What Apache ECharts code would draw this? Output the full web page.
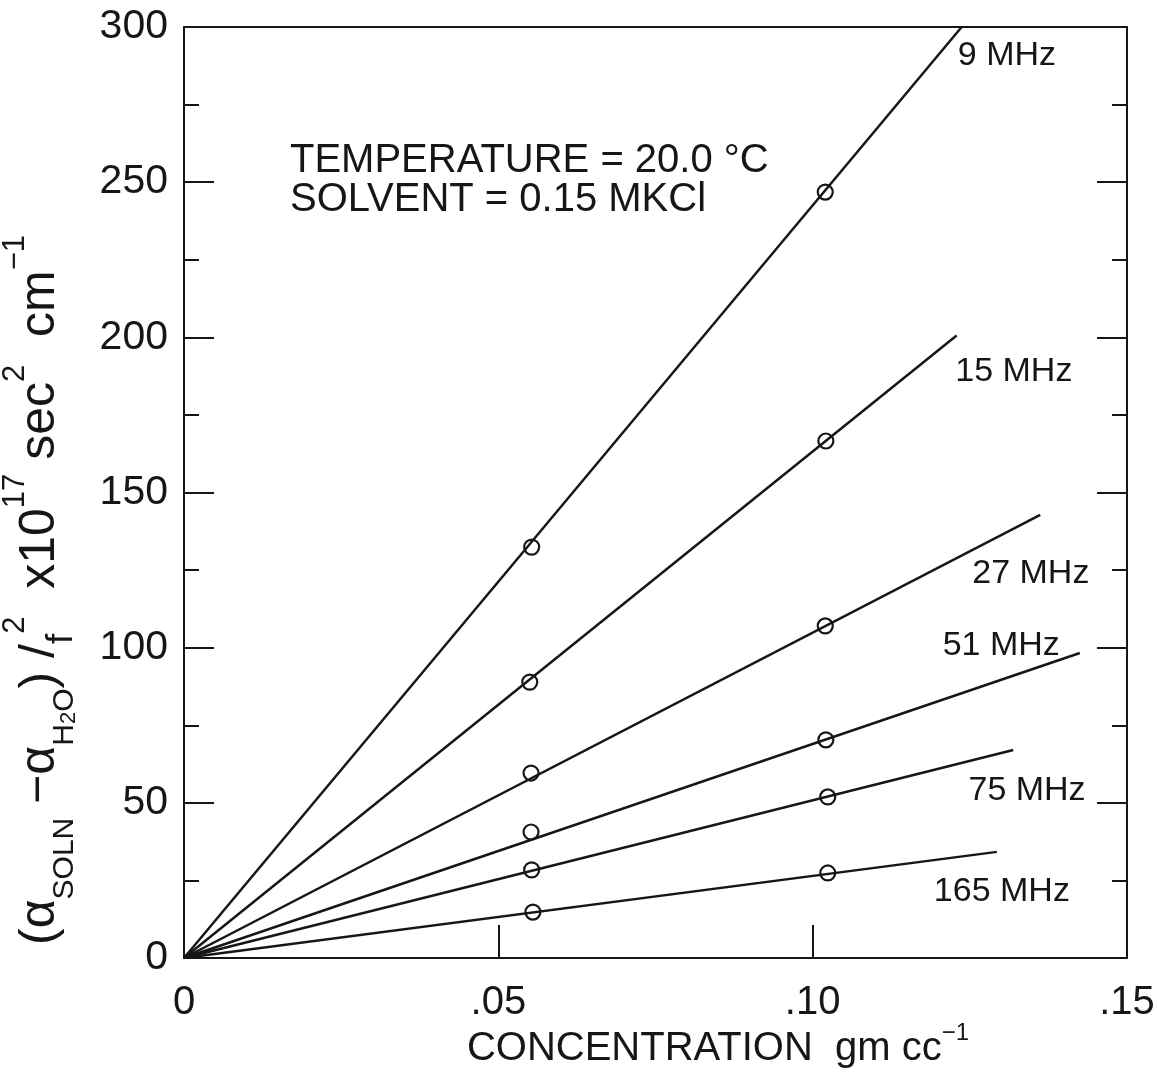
<!DOCTYPE html>
<html>
<head>
<meta charset="utf-8">
<script src="https://cdn.jsdelivr.net/npm/echarts@6/dist/echarts.min.js"></script>
<style>
html,body{margin:0;padding:0;background:#fff;}
#chart{width:1157px;height:1076px;}
</style>
</head>
<body>
<div id="chart"></div>
<script>
// ---- data ----
const freqLabels = ['9 MHz', '15 MHz', '27 MHz', '51 MHz', '75 MHz', '165 MHz'];
// measured points (concentration, value) for each frequency
const obsConc  = [[0.0553, 0.1020], [0.0550, 0.1021], [0.0552, 0.1020], [0.0552, 0.1021], [0.0553, 0.1024], [0.0555, 0.1024]];
const obsValue = [[132.4, 246.8], [88.9, 166.6], [59.6, 107.0], [40.6, 70.3], [28.4, 51.9], [14.8, 27.4]];
// fitted straight lines: from origin to these end points
const fitStartConc = [0, 0, 0, 0, 0, 0];
const fitStartValue = [0, 0, 0, 0, 0, 0];
const fitEndConc  = [0.1237, 0.1229, 0.1362, 0.1425, 0.1319, 0.1293];
const fitEndValue = [300, 200.6, 142.8, 98.3, 67.0, 34.2];
// axis ticks
const xTickValues = [0, 0.05, 0.10, 0.15];
const xTickLabels = ['0', '.05', '.10', '.15'];
const yTickValues = [0, 50, 100, 150, 200, 250, 300];
const yTickLabels = ['0', '50', '100', '150', '200', '250', '300'];
const noteLines = ['TEMPERATURE = 20.0 \u00B0C', 'SOLVENT = 0.15 MKCl'];

// ---- chart ----
const FONT = 'Liberation Sans';
const INK = '#161616';
const chart = echarts.init(document.getElementById('chart'), null, {renderer: 'canvas'});

// label anchor points (annotation placement, data coords)
const labelAnchorConc  = [0.1309, 0.1320, 0.1347, 0.1300, 0.1341, 0.1301];
const labelAnchorValue = [290.7, 189.0, 124.0, 100.5, 54.0, 21.5];

const series = [];
freqLabels.forEach((name, i) => {
  series.push({
    type: 'line', name: name + ' fit',
    data: [[fitStartConc[i], fitStartValue[i]], [fitEndConc[i], fitEndValue[i]]],
    showSymbol: false, symbol: 'none', silent: true,
    lineStyle: {color: INK, width: 2.5}, z: 2
  });
  series.push({
    type: 'scatter', name: name,
    data: obsConc[i].map((c, k) => [c, obsValue[i][k]]),
    symbol: 'circle', symbolSize: 15, silent: true,
    itemStyle: {color: 'rgba(255,255,255,0)', borderColor: INK, borderWidth: 2.2, opacity: 1}, z: 3
  });
});
series.push({
  type: 'scatter', name: 'labels', silent: true,
  symbolSize: 0,
  itemStyle: {opacity: 1},
  data: freqLabels.map((n, i) => ({name: n, value: [labelAnchorConc[i], labelAnchorValue[i]]})),
  label: {show: true, position: 'inside', formatter: p => p.name,
          fontFamily: FONT, fontSize: 34, color: INK, opacity: 1},
  z: 4
});

const yIdx = v => yTickValues.indexOf(Math.round(v));
const xIdx = v => xTickValues.findIndex(t => Math.abs(t - v) < 1e-9);

const option = {
  backgroundColor: '#fff',
  animation: false,
  grid: {left: 184, right: 30, top: 27, bottom: 118, containLabel: false, outerBoundsMode: 'none'},
  xAxis: [{
    type: 'value', min: 0, max: 0.15, interval: 0.05, position: 'bottom',
    axisLine: {show: true, lineStyle: {color: INK, width: 2}},
    axisTick: {show: true, inside: true, length: 33, lineStyle: {color: INK, width: 2}},
    axisLabel: {margin: 25, fontFamily: FONT, fontSize: 40, color: INK,
                formatter: v => { const k = xIdx(v); return k >= 0 ? xTickLabels[k] : ''; }},
    splitLine: {show: false},
    name: '{n|CONCENTRATION  gm cc}{p|\u22121}',
    nameLocation: 'middle', nameGap: 63, nameMoveOverlap: false,
    nameTextStyle: {padding: [0, 0, 0, 125],
      rich: {
        n: {fontFamily: FONT, fontSize: 40, color: INK, lineHeight: 48, verticalAlign: 'bottom'},
        p: {fontFamily: FONT, fontSize: 24, color: INK, lineHeight: 48, verticalAlign: 'top'}
      }}
  }, {
    type: 'value', min: 0, max: 0.15, interval: 0.05, position: 'top',
    axisLine: {show: true, onZero: false, lineStyle: {color: INK, width: 2}},
    axisTick: {show: false}, axisLabel: {show: false}, splitLine: {show: false}
  }],
  yAxis: [{
    type: 'value', min: 0, max: 300, interval: 50, position: 'left',
    axisLine: {show: true, onZero: false, lineStyle: {color: INK, width: 2}},
    axisTick: {show: true, inside: true, length: 30, lineStyle: {color: INK, width: 2}},
    minorTick: {show: true, splitNumber: 2, length: 15, lineStyle: {color: INK, width: 2}},
    axisLabel: {margin: 16, fontFamily: FONT, fontSize: 41, color: INK,
                formatter: v => { const k = yIdx(v); return k >= 0 ? yTickLabels[k] : ''; }},
    splitLine: {show: false},
    name: '{n|(\u03B1}{s|SOLN}{n| \u2212\u03B1}{s|H}{ss|2}{s|O}{n|) /}{f|f}{p|2}{n|  x10}{p|17}{n| sec}{p|2}{n|  cm}{p|\u22121}',
    nameLocation: 'middle', nameRotate: 90, nameGap: 104, nameMoveOverlap: false,
    nameTextStyle: {padding: [0, 195, 0, 0],
      rich: {
        n:  {fontFamily: FONT, fontSize: 50, color: INK, lineHeight: 80, verticalAlign: 'middle'},
        s:  {fontFamily: FONT, fontSize: 30, color: INK, lineHeight: 80, verticalAlign: 'bottom'},
        ss: {fontFamily: FONT, fontSize: 22, color: INK, lineHeight: 80, verticalAlign: 'bottom'},
        f:  {fontFamily: FONT, fontSize: 37, color: INK, lineHeight: 80, verticalAlign: 'bottom'},
        p:  {fontFamily: FONT, fontSize: 31, color: INK, lineHeight: 80, verticalAlign: 'top'}
      }}
  }, {
    type: 'value', min: 0, max: 300, interval: 50, position: 'right',
    axisLine: {show: true, onZero: false, lineStyle: {color: INK, width: 2}},
    axisTick: {show: true, inside: true, length: 30, lineStyle: {color: INK, width: 2}},
    minorTick: {show: true, splitNumber: 2, length: 15, lineStyle: {color: INK, width: 2}},
    axisLabel: {show: false}, splitLine: {show: false}
  }],
  graphic: [
    {type: 'text', left: 290, top: 141, silent: true,
     style: {text: noteLines[0], fontFamily: FONT, fontSize: 40, fill: INK}},
    {type: 'text', left: 290, top: 180, silent: true,
     style: {text: noteLines[1], fontFamily: FONT, fontSize: 40, fill: INK}}
  ],
  series: series
};
chart.setOption(option);
</script>
</body>
</html>
